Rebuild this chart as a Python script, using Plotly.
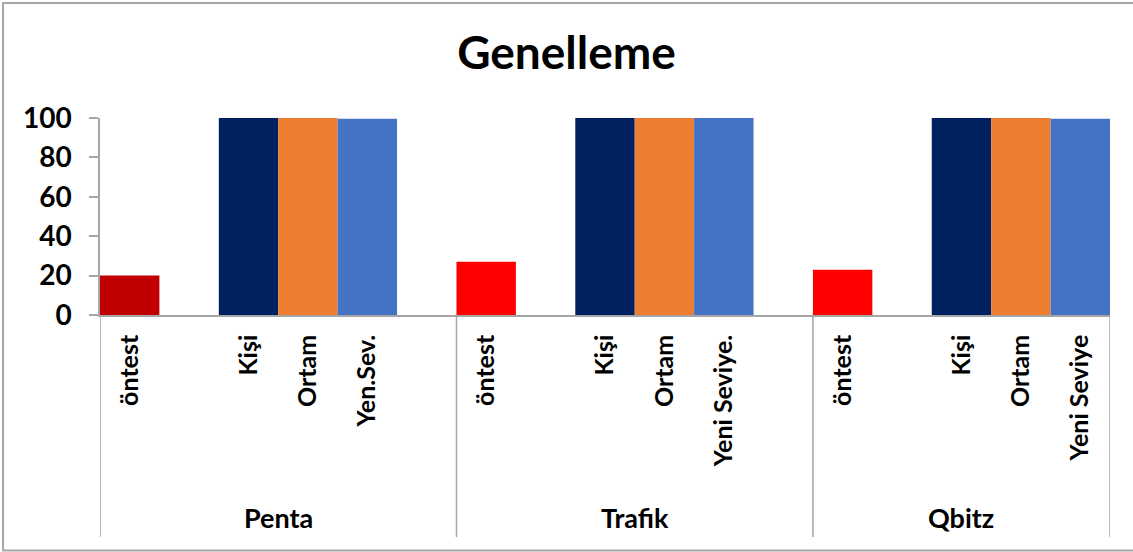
import plotly.graph_objects as go

# Groups and their category slots ("" marks an empty spacer slot)
groups = ["Penta", "Trafik", "Qbitz"]
penta_labels = ["öntest", "", "Kişi", "Ortam", "Yen.Sev.", ""]
trafik_labels = ["öntest", "", "Kişi", "Ortam", "Yeni Seviye.", ""]
qbitz_labels = ["öntest", "", "Kişi", "Ortam", "Yeni Seviye"]

penta_values = [20, None, 100, 100, 99.6, None]
trafik_values = [27, None, 100, 100, 100, None]
qbitz_values = [23, None, 100, 100, 99.6]

penta_colors = ["#C00000", None, "#002060", "#ED7D31", "#4472C4", None]
trafik_colors = ["#FF0000", None, "#002060", "#ED7D31", "#4472C4", None]
qbitz_colors = ["#FF0000", None, "#002060", "#ED7D31", "#4472C4"]

y_ticks = [0, 20, 40, 60, 80, 100]

FONT = "Lato"
AXIS_GREY = "#A6A6A6"

all_labels = [penta_labels, trafik_labels, qbitz_labels]
all_values = [penta_values, trafik_values, qbitz_values]
all_colors = [penta_colors, trafik_colors, qbitz_colors]

xs, ys, cs, tick_pos, tick_txt = [], [], [], [], []
group_bounds = []
pos = 0
for labels, values, colors in zip(all_labels, all_values, all_colors):
    start = pos - 0.5
    for lab, val, col in zip(labels, values, colors):
        if val is not None:
            xs.append(pos)
            ys.append(val)
            cs.append(col)
        if lab:
            tick_pos.append(pos)
            tick_txt.append(lab)
        pos += 1
    group_bounds.append((start, pos - 0.5))

fig = go.Figure(
    go.Bar(x=xs, y=ys, width=1, marker=dict(color=cs, line=dict(width=0)),
           hoverinfo="skip")
)

bottom = -1.127  # lower end of the group dividers, in plot-height units
shapes = []
for i, (a, b) in enumerate(group_bounds):
    for xv in ([a, b] if i == len(group_bounds) - 1 else [a]):
        shapes.append(dict(type="line", xref="x", yref="paper", x0=xv, x1=xv,
                           y0=0, y1=bottom, line=dict(color=AXIS_GREY, width=1.5)))

annotations = []
for g, (a, b) in zip(groups, group_bounds):
    annotations.append(dict(x=(a + b) / 2, y=-1.03, xref="x", yref="paper",
                            text=f"<b>{g}</b>", showarrow=False,
                            font=dict(family=FONT, size=27, color="black"),
                            xanchor="center", yanchor="middle"))

# outer chart border
shapes.append(dict(type="rect", xref="paper", yref="paper",
                   x0=-0.096, x1=1.05, y0=-1.196, y1=1.584,
                   line=dict(color="#A6A6A6", width=2), fillcolor="rgba(0,0,0,0)"))

fig.update_layout(
    width=1133, height=552,
    margin=dict(l=100, r=23, t=118, b=237),
    paper_bgcolor="white", plot_bgcolor="white",
    showlegend=False,
    title=dict(text="<b>Genelleme</b>", x=0.5, xanchor="center",
               y=1 - 53 / 552, yanchor="middle",
               font=dict(family=FONT, size=46, color="black")),
    shapes=shapes,
    annotations=annotations,
    xaxis=dict(range=[-0.5, pos - 0.5], tickmode="array", tickvals=tick_pos,
               ticktext=[f"<b>{t}</b>" for t in tick_txt], tickangle=-90,
               ticks="", ticklabelstandoff=8, showgrid=False, zeroline=False,
               showline=True, linecolor=AXIS_GREY, linewidth=1.5,
               tickfont=dict(family=FONT, size=25, color="black")),
    yaxis=dict(range=[0, 100], tickmode="array", tickvals=y_ticks,
               ticktext=[f"<b>{t}</b>" for t in y_ticks],
               ticks="outside", ticklen=9, tickcolor=AXIS_GREY, tickwidth=1.5,
               ticklabelstandoff=12, showgrid=False, zeroline=False,
               showline=True, linecolor=AXIS_GREY, linewidth=1.5,
               tickfont=dict(family=FONT, size=28, color="black")),
)

fig.write_html("out.html")
